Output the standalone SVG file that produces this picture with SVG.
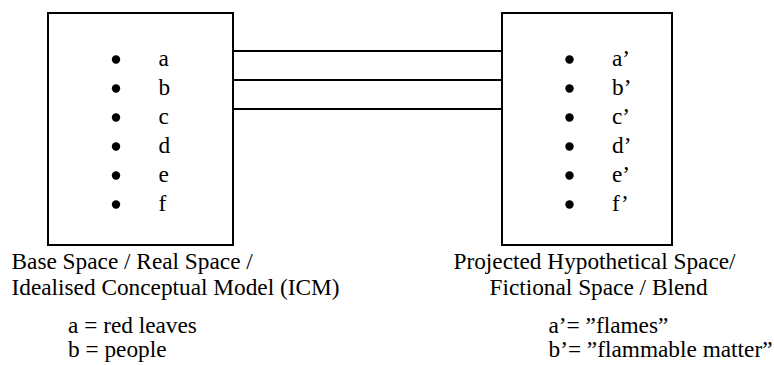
<svg xmlns="http://www.w3.org/2000/svg" width="774" height="365" viewBox="0 0 774 365">
<style>
  .box { fill: #fff; stroke: #000; stroke-width: 2; }
  .conn { stroke: #000; stroke-width: 2; fill: none; }
  .dot { fill: #000; }
  .t { font-family: "Liberation Serif", "Times New Roman", serif; font-size: 23.3px; fill: #000; }
</style>
<rect width="774" height="365" fill="#fff"/>
<g id="connectors">
  <line class="conn" x1="233" y1="51" x2="502" y2="51"/>
  <line class="conn" x1="233" y1="80" x2="502" y2="80"/>
  <line class="conn" x1="233" y1="109" x2="502" y2="109"/>
</g>
<g id="base-space">
  <rect class="box" x="48" y="13" width="185" height="232"/>
  <circle class="dot" cx="116" cy="59.5" r="4.2"/>
  <circle class="dot" cx="116" cy="88.5" r="4.2"/>
  <circle class="dot" cx="116" cy="117.5" r="4.2"/>
  <circle class="dot" cx="116" cy="146.5" r="4.2"/>
  <circle class="dot" cx="116" cy="175.5" r="4.2"/>
  <circle class="dot" cx="116" cy="204.5" r="4.2"/>
  <g class="t">
    <text x="158.5" y="66">a</text>
    <text x="158.5" y="95">b</text>
    <text x="158.5" y="124">c</text>
    <text x="158.5" y="153">d</text>
    <text x="158.5" y="182">e</text>
    <text x="158.5" y="211">f</text>
    <text x="11.5" y="269">Base Space / Real Space /</text>
    <text x="11.5" y="295">Idealised Conceptual Model (ICM)</text>
    <text x="68" y="333">a = red leaves</text>
    <text x="68" y="357">b = people</text>
  </g>
</g>
<g id="blend-space">
  <rect class="box" x="502" y="13" width="170" height="232"/>
  <circle class="dot" cx="569.5" cy="59.5" r="4.2"/>
  <circle class="dot" cx="569.5" cy="88.5" r="4.2"/>
  <circle class="dot" cx="569.5" cy="117.5" r="4.2"/>
  <circle class="dot" cx="569.5" cy="146.5" r="4.2"/>
  <circle class="dot" cx="569.5" cy="175.5" r="4.2"/>
  <circle class="dot" cx="569.5" cy="204.5" r="4.2"/>
  <g class="t">
    <text x="612" y="66">a’</text>
    <text x="612" y="95">b’</text>
    <text x="612" y="124">c’</text>
    <text x="612" y="153">d’</text>
    <text x="612" y="182">e’</text>
    <text x="612" y="211">f’</text>
    <text x="453.5" y="269">Projected Hypothetical Space/</text>
    <text x="489.5" y="295">Fictional Space / Blend</text>
    <text x="548.5" y="333">a’= ”flames”</text>
    <text x="548.5" y="357">b’= ”flammable matter”</text>
  </g>
</g>
</svg>
